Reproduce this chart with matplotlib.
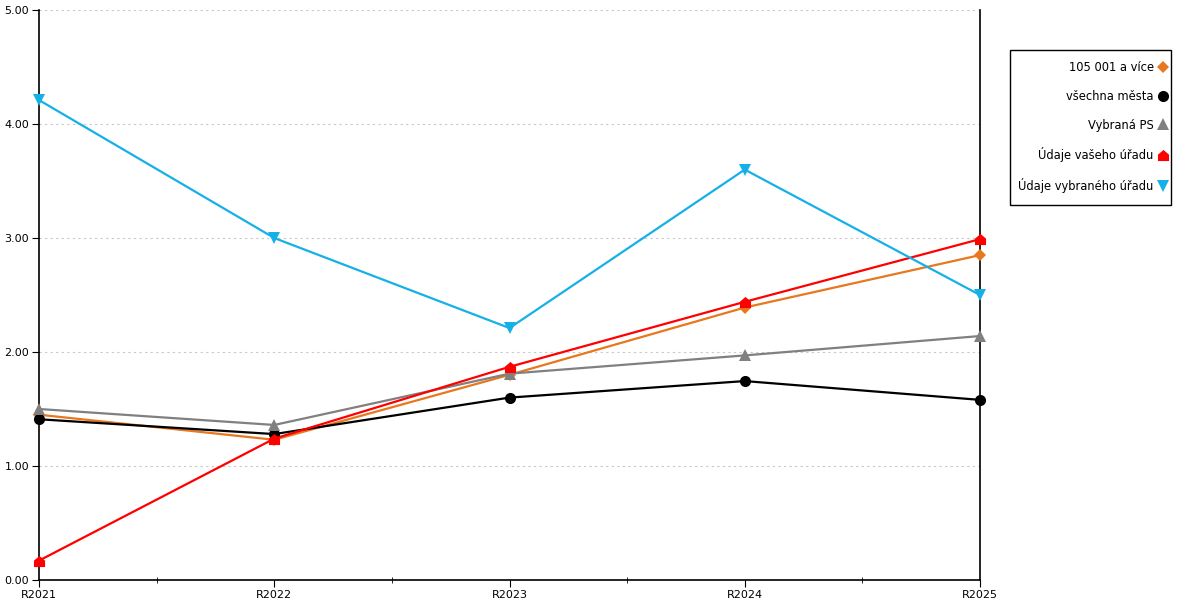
import matplotlib
matplotlib.use("Agg")
import matplotlib.pyplot as plt
from matplotlib.path import Path
from matplotlib.patches import Rectangle
from matplotlib.ticker import FormatStrFormatter
from matplotlib.lines import Line2D

# data
years = ["R2021", "R2022", "R2023", "R2024", "R2025"]
mesta_105 = [1.45, 1.23, 1.80, 2.39, 2.85]
vsechna_mesta = [1.41, 1.28, 1.60, 1.745, 1.58]
vybrana_ps = [1.50, 1.36, 1.81, 1.97, 2.14]
vas_urad = [0.17, 1.24, 1.87, 2.44, 2.99]
vybrany_urad = [4.21, 3.00, 2.21, 3.60, 2.50]

labels = ["105 001 a více", "všechna města", "Vybraná PS",
          "Údaje vašeho úřadu", "Údaje vybraného úřadu"]

# "house" marker for the red series
house = Path([(-1, -1), (1, -1), (1, 0.15), (0, 1), (-1, 0.15), (-1, -1)],
             [Path.MOVETO] + [Path.LINETO] * 4 + [Path.CLOSEPOLY])

styles = [
    (mesta_105, "#E8771E", "D", 6),
    (vsechna_mesta, "#000000", "o", 8),
    (vybrana_ps, "#808080", "^", 8),
    (vas_urad, "#FF0000", house, 8),
    (vybrany_urad, "#16B0E8", "v", 8),
]

plt.rcParams["font.family"] = "DejaVu Sans"

fig = plt.figure(figsize=(12, 6), dpi=100)
ax = fig.add_axes([39 / 1200, 20 / 600, 941 / 1200, 570 / 600])

x = list(range(len(years)))
handles = []
for (vals, col, mk, ms), lab in zip(styles, labels):
    ax.plot(x, vals, color=col, lw=1.6, marker=mk, markersize=ms,
            markeredgewidth=0, clip_on=False, zorder=3)
    handles.append(Line2D([], [], color=col, marker=mk, markersize=ms,
                          markeredgewidth=0, linestyle="none", label=lab))

ax.set_xlim(0, 4)
ax.set_ylim(0, 5)
ax.set_yticks([0, 1, 2, 3, 4, 5])
ax.yaxis.set_major_formatter(FormatStrFormatter("%.2f"))
ax.set_xticks(x)
ax.set_xticklabels(years)
ax.set_xticks([0.5, 1.5, 2.5, 3.5], minor=True)
ax.tick_params(axis="x", which="major", length=5, labelsize=8, pad=2)
ax.tick_params(axis="x", which="minor", length=5, direction="inout")
ax.tick_params(axis="y", length=5, labelsize=8, pad=2)

ax.grid(axis="y", color="#c8c8c8", linestyle=(0, (2, 3)), lw=0.8)
ax.set_axisbelow(True)
ax.spines["top"].set_visible(False)
for s in ["left", "bottom", "right"]:
    ax.spines[s].set_linewidth(1.2)
    ax.spines[s].set_color("black")

# legend box drawn separately so its size matches the original
fig.patches.append(Rectangle((1010 / 1200, 1 - 205 / 600), 161 / 1200, 155 / 600,
                             transform=fig.transFigure, fill=False,
                             edgecolor="black", lw=1.0))
leg = fig.legend(handles=handles, loc="center right",
                 bbox_to_anchor=(1167 / 1200, 1 - 127 / 600),
                 markerfirst=False, frameon=False, fontsize=8.3,
                 labelspacing=1.35, handlelength=0.7, handletextpad=0.45,
                 borderpad=0.0, borderaxespad=0)
for t in leg.get_texts():
    t.set_ha("right")

fig.savefig("out.png", dpi=100)
